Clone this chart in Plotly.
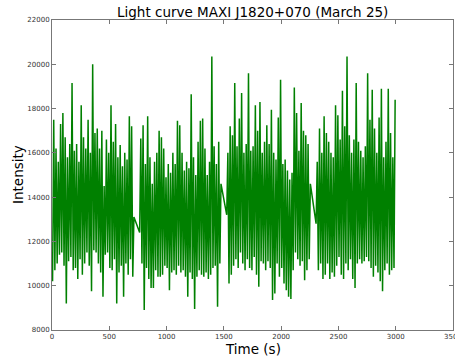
import plotly.graph_objects as go

# Light curve: per 20 s bin, the lowest and highest intensity reached.
# None = no data (gaps in the observation; the line is drawn straight across them).
bin_width_s = 20
low = [10200, 10700, 11000, 11400, 11500, 10900, 9200, 11100, 11300, 10700,
       10800, 10300, 11200, 10500, 11000, 11500, 10900, 9750, 11600, 11500,
       11000, 10600, 9500, 11400, 11500, 10800, 10700, 11200, 9200, 10600,
       10900, 9500, 11000, 10500, 11200, 10400, None, None, 12400, 11000,
       8900, 10800, 10300, 9900, 9900, 10700, 10400, 10400, 10500, 10900,
       10800, 9800, 10600, 10700, 10500, 10900, 10600, 10700, 10400, 9500,
       10600, 10300, 8950, 10400, 10700, 10500, 10400, 10600, 10300, 10500,
       10800, 10900, 9050, 11000, None, None, 13200, 10100, 10500, 10900,
       11200, 10800, 11500, 11000, 10700, 11200, 10800, 10700, 11300, 10500,
       9950, 11100, 11000, 10700, 11100, 10800, 9350, 9650, 11000, 10400,
       10800, 10100, 9800, 9500, 9400, 10700, 11500, 11200, 10900, 11100,
       10250, 10700, 11200, None, None, 12800, 10700, 11000, 10300, 10500,
       11000, 10300, 10600, 10400, 10900, 11300, 10500, 10300, 11000, 10700,
       11200, 10300, 9900, 11000, 11200, 11000, 11100, 11300, 11100, 10800,
       10400, 10900, 10600, 10200, 9750, 10700, 11000, 10500, 10700, 10800]
high = [17500, 16200, 15600, 17300, 17800, 16700, 15800, 16400, 19150, 16100,
        16400, 15600, 18150, 16700, 16200, 17500, 16000, 20000, 16900, 17100,
        16200, 17000, 14500, 16600, 16000, 18150, 16500, 17300, 15800, 16350,
        15400, 16000, 15700, 17650, 17200, 13100, None, None, 16650, 17250,
        15500, 17650, 15800, 14600, 15600, 16000, 17000, 16700, 16200, 14900,
        15500, 15100, 16000, 15500, 17450, 17250, 16000, 15200, 15600, 15300,
        18650, 15800, 15000, 16500, 17450, 17550, 16200, 15000, 15600, 20350,
        16300, 15500, 16500, 14600, None, None, 16000, 17200, 16800, 19150,
        16300, 17550, 18700, 16000, 16400, 19600, 16100, 16300, 18150, 17000,
        18300, 16000, 16500, 17250, 16400, 17950, 16000, 15700, 17600, 19300,
        15500, 15700, 15200, 14800, 15100, 18950, 17800, 16100, 18250, 17000,
        16800, 16400, 14600, None, None, 15600, 17100, 16000, 17650, 16900,
        16500, 16000, 15800, 18150, 17700, 16600, 18800, 17200, 20350, 16800,
        16000, 16600, 19150, 16500, 16100, 15800, 16300, 19600, 17500, 18850,
        17100, 16000, 17600, 18900, 15800, 16500, 18900, 16900, 15800, 18400]

x_ticks = [0, 500, 1000, 1500, 2000, 2500, 3000, 3500]
y_ticks = [8000, 10000, 12000, 14000, 16000, 18000, 20000, 22000]

times, values = [], []
for i, (lo, hi) in enumerate(zip(low, high)):
    t0 = i * bin_width_s
    times += [t0 + 5, t0 + 15]
    values += [lo, hi]

fig = go.Figure()
fig.add_trace(go.Scatter(x=times, y=values, mode="lines", connectgaps=True,
                         line=dict(color="#008000", width=1.5, simplify=False), hoverinfo="skip"))

tick_font = dict(family="DejaVu Sans", size=7, color="#333")
axis_common = dict(showline=True, linecolor="#777", linewidth=1, mirror="ticks",
                   ticks="inside", ticklen=4, tickcolor="#777", showgrid=False,
                   zeroline=False, tickfont=tick_font)
fig.update_xaxes(range=[0, 3500], tickvals=x_ticks,
                 ticktext=[str(v) if v < 3500 else "" for v in x_ticks], **axis_common)
fig.update_yaxes(range=[8000, 22000], tickvals=y_ticks, ticktext=[str(v) for v in y_ticks],
                 **axis_common)
fig.add_annotation(text="Time (s)", x=0.5, y=(330 - 339) / 310, xref="paper", yref="paper",
                   xanchor="center", yanchor="top", showarrow=False,
                   font=dict(family="DejaVu Sans", size=13.5, color="#000"))
fig.add_annotation(text="Intensity", textangle=-90, x=(18 - 52) / 401, y=0.5, xref="paper", yref="paper",
                   xanchor="center", yanchor="middle", showarrow=False,
                   font=dict(family="DejaVu Sans", size=13.5, color="#000"))
fig.add_annotation(text=str(x_ticks[-1]), x=x_ticks[-1], y=0, xref="x", yref="paper",
                   xanchor="center", yanchor="top", showarrow=False, yshift=-1,
                   font=tick_font)
fig.add_annotation(text="Light curve MAXI J1820+070 (March 25)", x=0.5, y=1, xref="paper", yref="paper",
                   xanchor="center", yanchor="bottom", showarrow=False, yshift=-2,
                   font=dict(family="DejaVu Sans", size=13.5, color="#000"))
fig.update_layout(width=455, height=356, margin=dict(l=52, r=2, t=20, b=26),
                  plot_bgcolor="white", paper_bgcolor="white", showlegend=False)
fig.write_html("out.html")
